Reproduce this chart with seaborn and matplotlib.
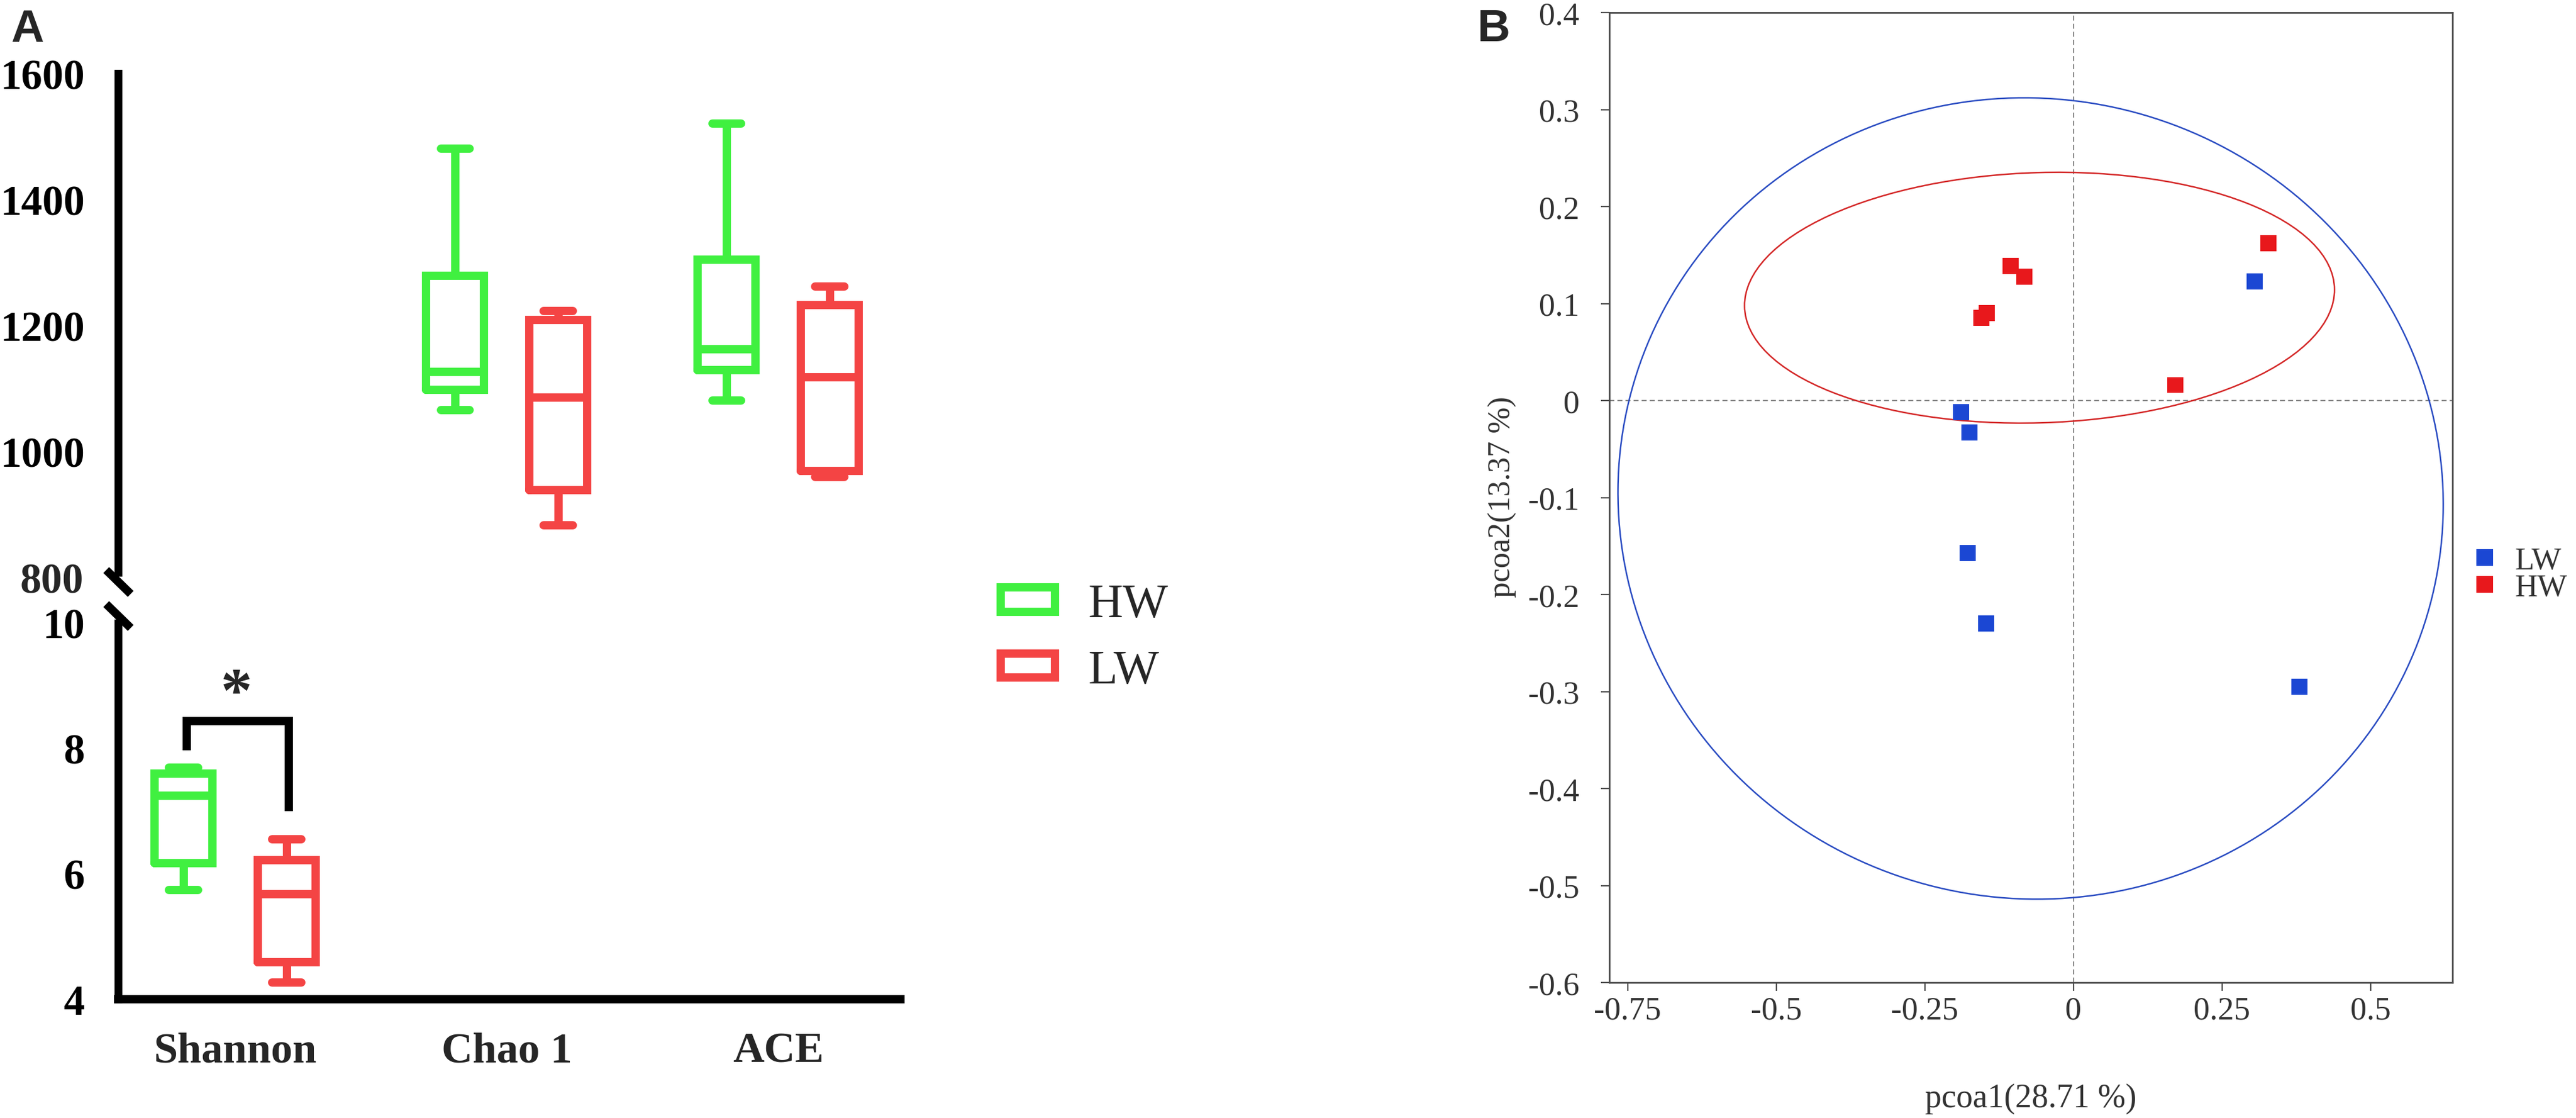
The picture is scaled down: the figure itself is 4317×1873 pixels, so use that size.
import numpy as np
import pandas as pd
import matplotlib
matplotlib.use('Agg')
import matplotlib.pyplot as plt
import seaborn as sns
from matplotlib.patches import Patch, Ellipse
from matplotlib.lines import Line2D

# Datos (A: min, Q1, mediana, Q3, max por grupo)
indices = ['Shannon', 'Chao 1', 'ACE']
grupos = ['HW', 'LW']
shannon_hw = [5.74, 6.17, 7.25, 7.60, 7.70]
shannon_lw = [4.27, 4.59, 5.68, 6.22, 6.55]
chao1_hw = [1066, 1098, 1127, 1279, 1481]
chao1_lw = [883, 939, 1086, 1209, 1223]
ace_hw = [1081, 1129, 1163, 1305, 1520]
ace_lw = [960, 969, 1118, 1233, 1262]

# B: coordenadas PCoA
pcoa1_lw = [0.305, -0.189, -0.175, -0.178, -0.147, 0.380]
pcoa2_lw = [0.123, -0.012, -0.033, -0.157, -0.230, -0.295]
pcoa1_hw = [0.328, -0.106, -0.083, -0.146, -0.155, 0.172]
pcoa2_hw = [0.162, 0.139, 0.1275, 0.090, 0.085, 0.016]

# elipses: centro x, centro y, ancho, alto, angulo
elipse_lw = [-0.072, -0.101, 1.389, 0.826, -0.8]
elipse_hw = [-0.057, 0.106, 0.993, 0.258, 1.0]

paleta_a = {'HW': '#40F040', 'LW': '#F44444'}
paleta_b = {'LW': '#1B47D3', 'HW': '#E8181C'}
color_elipse = {'LW': '#2A4CC2', 'HW': '#D42828'}

sns.set_style('white')
plt.rcParams['font.family'] = ['Liberation Serif', 'DejaVu Serif']
plt.rcParams['axes.unicode_minus'] = False
plt.rcParams['lines.solid_joinstyle'] = 'miter'

W, H = 4317, 1874


def fx(px):
    return px / W


def fy(py):
    return 1 - py / H


filas = []
for ind, hw, lw in zip(indices, [shannon_hw, chao1_hw, ace_hw], [shannon_lw, chao1_lw, ace_lw]):
    filas += [(ind, 'HW', v) for v in hw]
    filas += [(ind, 'LW', v) for v in lw]
df = pd.DataFrame(filas, columns=['Indice', 'Grupo', 'Valor'])

fig = plt.figure(figsize=(W / 100, H / 100), dpi=100)

# ---------------- Panel A (eje cortado) ----------------
ax_top = fig.add_axes([fx(198), fy(960), (1509 - 198) / W, (960 - 124) / H])
ax_bot = fig.add_axes([fx(198), fy(1675), (1509 - 198) / W, (1675 - 1045) / H])

kw = dict(x='Indice', y='Valor', hue='Grupo', order=indices, hue_order=grupos,
          palette=paleta_a, fill=False, linewidth=10, whis=(0, 100),
          width=0.76, gap=0.44, legend=False)
sns.boxplot(data=df[df['Indice'] != 'Shannon'], ax=ax_top, **kw)
sns.boxplot(data=df[df['Indice'] == 'Shannon'], ax=ax_bot, **kw)

for ax in (ax_top, ax_bot):
    ax.set_xlim(-0.431, 2.45)
    ax.set_xlabel('')
    ax.set_ylabel('')
    ax.spines[['top', 'right']].set_visible(False)
    ax.spines['left'].set_linewidth(9.5)
    ax.spines['left'].set_color('black')
    ax.tick_params(axis='y', length=32, width=10, pad=8, labelsize=51, colors='black')

# eje superior: 800 cae en el corte (y=969 px), el eje llega hasta 960
ax_top.set_ylim(800 + (969 - 960) / 1.0567, 1600)
ax_top.set_yticks([1000, 1200, 1400, 1600])
ax_top.spines['bottom'].set_visible(False)
ax_top.tick_params(axis='x', bottom=False, labelbottom=False)
for lab in ax_top.get_yticklabels():
    lab.set_fontweight('bold')
fig.text(fx(140), fy(969), '800', fontsize=51, fontweight='bold', ha='right', va='center_baseline')

ax_bot.set_ylim(4, 10)
ax_bot.set_yticks([4, 6, 8, 10])
ax_bot.yaxis.get_major_ticks()[-1].tick1line.set_visible(False)
ax_bot.spines['bottom'].set_linewidth(10)
ax_bot.spines['bottom'].set_color('black')
ax_bot.tick_params(axis='x', length=31, width=10, pad=8, labelsize=52)
for lab in ax_bot.get_yticklabels() + ax_bot.get_xticklabels():
    lab.set_fontweight('bold')

# marcas de corte
for y0 in (956, 1013):
    fig.add_artist(Line2D([fx(178), fx(219)], [fy(y0), fy(y0 + 40)],
                          transform=fig.transFigure, color='black', lw=10,
                          solid_capstyle='butt'))

# significancia Shannon
ax_bot.plot([-0.178, -0.178, 0.198, 0.198], [7.97, 8.44, 8.44, 7.0],
            color='black', lw=10, clip_on=False, solid_capstyle='butt')
ax_bot.text(0.005, 8.60, '*', ha='center', va='baseline', fontsize=76,
            fontweight='bold')

manejadores_a = [Patch(facecolor='white', edgecolor=paleta_a[g], linewidth=10) for g in grupos]
fig.legend(manejadores_a, grupos, loc='center left', bbox_to_anchor=(fx(1677), fy(1070)),
           frameon=False, fontsize=58, handlelength=1.125, handleheight=0.4,
           handletextpad=0.7, labelspacing=0.47, borderpad=0, borderaxespad=0)

fig.text(fx(18), fy(70), 'A', fontsize=55, fontweight='bold',
         family=['Liberation Sans', 'DejaVu Sans'], ha='left', va='baseline')

# ---------------- Panel B (PCoA) ----------------
ax_b = fig.add_axes([fx(2697), fy(1647), (4110 - 2697) / W, (1647 - 22) / H])
df_pcoa = pd.DataFrame({
    'pcoa1': pcoa1_lw + pcoa1_hw,
    'pcoa2': pcoa2_lw + pcoa2_hw,
    'Grupo': ['LW'] * len(pcoa1_lw) + ['HW'] * len(pcoa1_hw),
})
ax_b.axhline(0, color='#8A8A8A', lw=1.5, ls=(0, (4, 2.5)), zorder=1)
ax_b.axvline(0, color='#8A8A8A', lw=1.5, ls=(0, (4, 2.5)), zorder=1)
for g, e in (('LW', elipse_lw), ('HW', elipse_hw)):
    ax_b.add_patch(Ellipse((e[0], e[1]), e[2], e[3], angle=e[4], fill=False,
                           edgecolor=color_elipse[g], lw=1.8, zorder=2))
sns.scatterplot(data=df_pcoa, x='pcoa1', y='pcoa2', hue='Grupo', hue_order=['LW', 'HW'],
                palette=paleta_b, marker='s', s=377, linewidth=0, legend=False,
                ax=ax_b, zorder=3)

ax_b.set_xlim(-0.781, 0.638)
ax_b.set_ylim(-0.6, 0.4)
ax_b.set_xticks([-0.75, -0.5, -0.25, 0, 0.25, 0.5])
ax_b.set_yticks(np.round(np.arange(-0.6, 0.41, 0.1), 1))
ax_b.xaxis.set_major_formatter(lambda v, p: f'{v + 0.0:g}')
ax_b.yaxis.set_major_formatter(lambda v, p: f'{round(v, 1) + 0.0:g}')
ax_b.set_xlabel('')
ax_b.set_ylabel('')
for s in ax_b.spines.values():
    s.set_color('#4A4A4A')
    s.set_linewidth(2.0)
ax_b.tick_params(axis='both', direction='out', length=10, width=1.6, color='#4A4A4A',
                 labelsize=39, labelcolor='#333333', left=True, bottom=True)
ax_b.tick_params(axis='y', pad=26)
ax_b.tick_params(axis='x', pad=6)

fig.text(fx(3403), fy(1855), 'pcoa1(28.71 %)', fontsize=40, color='#333333',
         ha='center', va='baseline')
fig.text(fx(2518), fy(833), 'pcoa2(13.37 %)', fontsize=38, color='#333333',
         ha='center', va='center', rotation=90)

manejadores_b = [Line2D([], [], marker='s', ls='none', markersize=20,
                        markerfacecolor=paleta_b[g], markeredgewidth=0) for g in ['LW', 'HW']]
fig.legend(manejadores_b, ['LW', 'HW'], loc='center left', bbox_to_anchor=(fx(4138), fy(963)),
           frameon=False, fontsize=38, handlelength=1.0, handletextpad=0.45,
           labelspacing=-0.05, borderpad=0, borderaxespad=0, labelcolor='#333333')

fig.text(fx(2476), fy(69), 'B', fontsize=55, fontweight='bold',
         family=['Liberation Sans', 'DejaVu Sans'], ha='left', va='baseline')

fig.savefig('out.png', dpi=100)
